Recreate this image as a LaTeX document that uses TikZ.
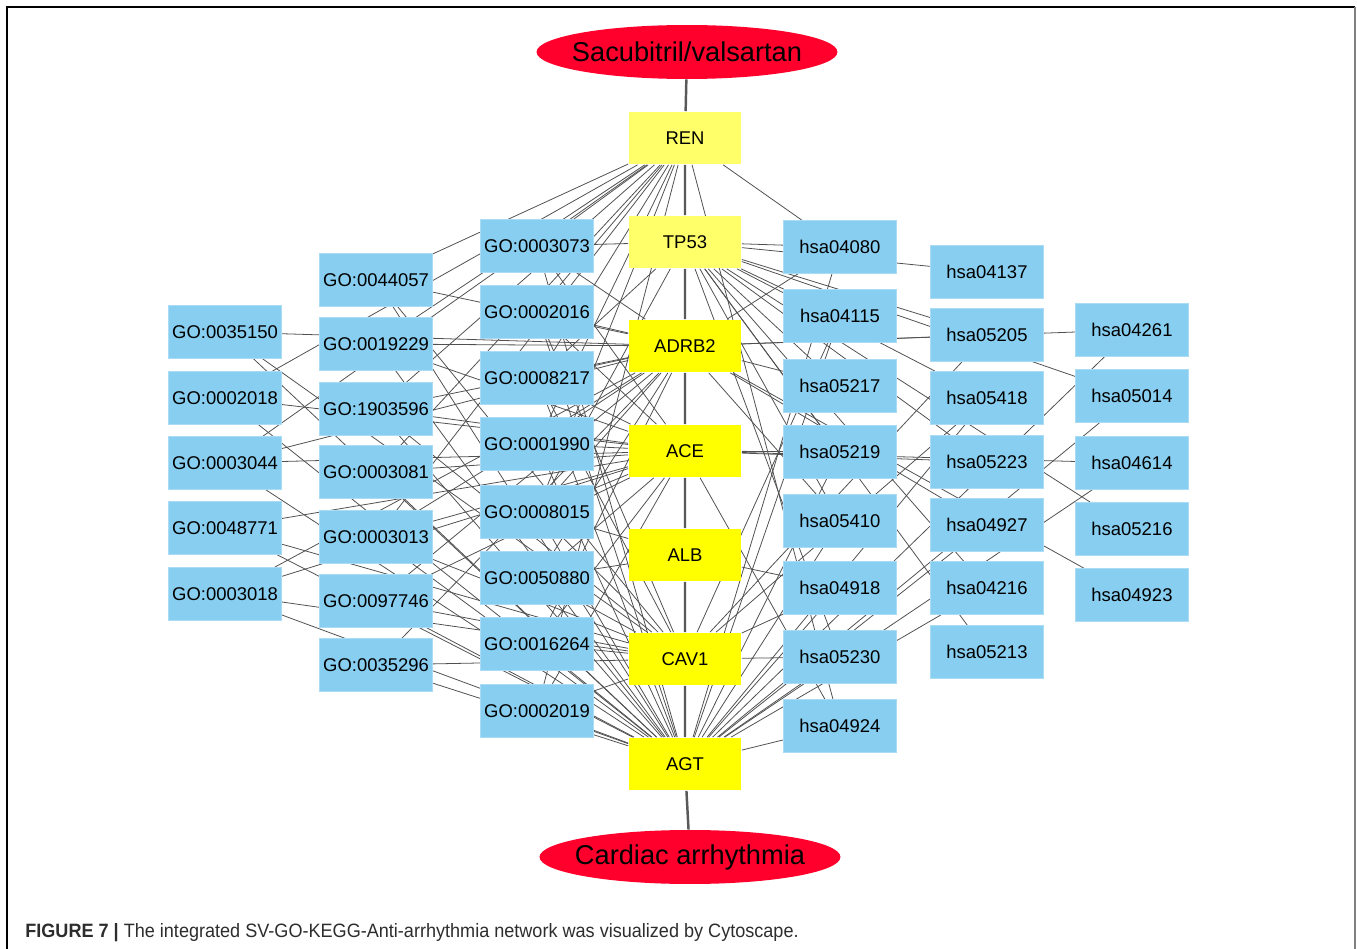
\documentclass[tikz,border=0pt]{standalone}
\usepackage{fontspec}
\setmainfont{Liberation Sans}
\usepackage{graphicx}
\usetikzlibrary{shapes.geometric,backgrounds}

\definecolor{termblue}{RGB}{135,206,240}
\definecolor{termedge}{RGB}{170,220,245}
\definecolor{geneyellow}{RGB}{255,255,0}
\definecolor{paleyellow}{RGB}{255,255,105}
\definecolor{drugred}{RGB}{255,0,45}
\definecolor{edgegray}{RGB}{80,80,80}
\definecolor{captiongray}{RGB}{45,45,45}

\tikzset{
  term/.style={rectangle,fill=termblue,draw=termedge,line width=0.4pt,minimum width=2.26cm,minimum height=1.06cm,inner sep=0pt,font=\fontsize{10.5}{12}\selectfont},
  gene/.style={term,fill=geneyellow,draw=none},
  ends/.style={ellipse,fill=drugred,minimum width=6.02cm,minimum height=1.08cm,inner sep=0pt,font=\fontsize{15.5}{17}\selectfont},
  link/.style={draw=edgegray,line width=0.45pt},
  spine/.style={draw=gray!70!black,line width=1.4pt}
}

\begin{document}
\begin{tikzpicture}[x=0.02cm,y=-0.02cm]
  \useasboundingbox (0,0) rectangle (1357,949);
  \draw[line width=0.6pt] (7,949) -- (7,7) -- (1355,7);
  \draw[gray,line width=1.2pt] (1355,7) -- (1355,949);

  % drug and disease
  \node[ends] (sv) at (687,52) {\makebox[0pt]{Sacubitril/valsartan}};
  \node[ends] (ca) at (690,857) {\makebox[0pt]{Cardiac arrhythmia}};

  % target genes
  \node[gene,fill=paleyellow] (ren) at (685,138) {REN};
  \node[gene,fill=paleyellow] (tp53) at (685,242) {TP53};
  \node[gene] (adrb2) at (685,346) {ADRB2};
  \node[gene] (ace) at (685,451) {ACE};
  \node[gene] (alb) at (685,555) {ALB};
  \node[gene] (cav1) at (685,659) {CAV1};
  \node[gene] (agt) at (685,764) {AGT};

  % GO terms, inner column
  \node[term] (go0003073) at (537,246) {GO:0003073};
  \node[term] (go0002016) at (537,312) {GO:0002016};
  \node[term] (go0008217) at (537,378) {GO:0008217};
  \node[term] (go0001990) at (537,444) {GO:0001990};
  \node[term] (go0008015) at (537,512) {GO:0008015};
  \node[term] (go0050880) at (537,578) {GO:0050880};
  \node[term] (go0016264) at (537,644) {GO:0016264};
  \node[term] (go0002019) at (537,711) {GO:0002019};

  % GO terms, middle column
  \node[term] (go0044057) at (376,280) {GO:0044057};
  \node[term] (go0019229) at (376,344) {GO:0019229};
  \node[term] (go1903596) at (376,409) {GO:1903596};
  \node[term] (go0003081) at (376,472) {GO:0003081};
  \node[term] (go0003013) at (376,537) {GO:0003013};
  \node[term] (go0097746) at (376,601) {GO:0097746};
  \node[term] (go0035296) at (376,665) {GO:0035296};

  % GO terms, outer column
  \node[term] (go0035150) at (225,332) {GO:0035150};
  \node[term] (go0002018) at (225,398) {GO:0002018};
  \node[term] (go0003044) at (225,463) {GO:0003044};
  \node[term] (go0048771) at (225,528) {GO:0048771};
  \node[term] (go0003018) at (225,594) {GO:0003018};

  % KEGG pathways
  \node[term] (hsa04080) at (840,247) {hsa04080};
  \node[term] (hsa04115) at (840,316) {hsa04115};
  \node[term] (hsa05217) at (840,386) {hsa05217};
  \node[term] (hsa05219) at (840,452) {hsa05219};
  \node[term] (hsa05410) at (840,521) {hsa05410};
  \node[term] (hsa04918) at (840,588) {hsa04918};
  \node[term] (hsa05230) at (840,657) {hsa05230};
  \node[term] (hsa04924) at (840,726) {hsa04924};

  \node[term] (hsa04137) at (987,272) {hsa04137};
  \node[term] (hsa05205) at (987,335) {hsa05205};
  \node[term] (hsa05418) at (987,398) {hsa05418};
  \node[term] (hsa05223) at (987,462) {hsa05223};
  \node[term] (hsa04927) at (987,525) {hsa04927};
  \node[term] (hsa04216) at (987,588) {hsa04216};
  \node[term] (hsa05213) at (987,652) {hsa05213};

  \node[term] (hsa04261) at (1132,330) {hsa04261};
  \node[term] (hsa05014) at (1132,396) {hsa05014};
  \node[term] (hsa04614) at (1132,463) {hsa04614};
  \node[term] (hsa05216) at (1132,529) {hsa05216};
  \node[term] (hsa04923) at (1132,595) {hsa04923};

  \node[anchor=west,inner sep=0pt,text=captiongray,font=\fontsize{11}{13}\selectfont] (caption) at (25,933)
    {\scalebox{0.935}[1]{\textbf{FIGURE 7 |} The integrated SV-GO-KEGG-Anti-arrhythmia network was visualized by Cytoscape.}};

  \begin{scope}[on background layer]
    \draw[spine] (sv) -- (ren) -- (tp53) -- (adrb2) -- (ace) -- (alb) -- (cav1) -- (agt) -- (ca);

    \path[link] (go0003073) edge (ren) edge (tp53) edge (adrb2) edge (ace) edge (agt);
    \path[link] (go0002016) edge (ren) edge (adrb2) edge (ace) edge (cav1) edge (agt);
    \path[link] (go0008217) edge (ren) edge (tp53) edge (adrb2) edge (ace) edge (cav1) edge (agt);
    \path[link] (go0001990) edge (ren) edge (adrb2) edge (ace) edge (agt);
    \path[link] (go0008015) edge (ren) edge (tp53) edge (adrb2) edge (ace) edge (alb) edge (cav1) edge (agt);
    \path[link] (go0050880) edge (adrb2) edge (ace) edge (alb) edge (cav1) edge (agt);
    \path[link] (go0016264) edge (adrb2) edge (ace) edge (cav1) edge (agt);
    \path[link] (go0002019) edge (ren) edge (ace) edge (cav1) edge (agt);

    \path[link] (go0044057) edge (ren) edge (adrb2) edge (cav1) edge (agt);
    \path[link] (go0019229) edge (ren) edge (adrb2) edge (ace) edge (agt);
    \path[link] (go1903596) edge (ren) edge (adrb2) edge (ace) edge (cav1) edge (agt);
    \path[link] (go0003081) edge (ren) edge (ace) edge (agt);
    \path[link] (go0003013) edge (ren) edge (adrb2) edge (ace) edge (cav1) edge (agt);
    \path[link] (go0097746) edge (adrb2) edge (ace) edge (cav1) edge (agt);
    \path[link] (go0035296) edge (adrb2) edge (cav1) edge (agt);

    \path[link] (go0035150) edge (adrb2) edge (cav1) edge (agt);
    \path[link] (go0002018) edge (ren) edge (ace) edge (agt);
    \path[link] (go0003044) edge (ren) edge (adrb2) edge (ace) edge (agt);
    \path[link] (go0048771) edge (ace) edge (cav1) edge (agt);
    \path[link] (go0003018) edge (adrb2) edge (ace) edge (cav1) edge (agt);

    \path[link] (hsa04080) edge (ren) edge (tp53) edge (adrb2) edge (agt);
    \path[link] (hsa04115) edge (tp53) edge (cav1) edge (agt);
    \path[link] (hsa05217) edge (tp53) edge (adrb2);
    \path[link] (hsa05219) edge (tp53) edge (ace) edge (agt);
    \path[link] (hsa05410) edge (tp53) edge (adrb2) edge (agt);
    \path[link] (hsa04918) edge (alb) edge (cav1) edge (agt);
    \path[link] (hsa05230) edge (tp53) edge (cav1) edge (agt);
    \path[link] (hsa04924) edge (ren) edge (ace) edge (agt);

    \path[link] (hsa04137) edge (tp53);
    \path[link] (hsa05205) edge (tp53) edge (adrb2) edge (cav1);
    \path[link] (hsa05418) edge (tp53) edge (cav1) edge (agt);
    \path[link] (hsa05223) edge (tp53) edge (ace);
    \path[link] (hsa04927) edge (adrb2) edge (agt);
    \path[link] (hsa04216) edge (tp53) edge (agt);
    \path[link] (hsa05213) edge (tp53);

    \path[link] (hsa04261) edge (adrb2) edge (agt);
    \path[link] (hsa05014) edge (tp53) edge (agt);
    \path[link] (hsa04614) edge (ace) edge (agt);
    \path[link] (hsa05216) edge (tp53);
    \path[link] (hsa04923) edge (adrb2);
  \end{scope}
\end{tikzpicture}
\end{document}
